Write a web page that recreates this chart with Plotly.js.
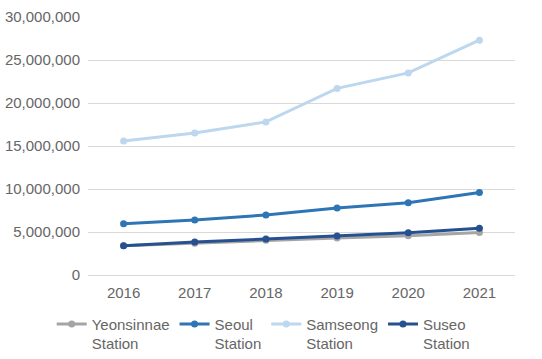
<!DOCTYPE html>
<html><head><meta charset="utf-8">
<script src="https://cdn.plot.ly/plotly-3.0.1.min.js"></script>
<style>html,body{margin:0;padding:0;background:#fff}#c{width:542px;height:359px}</style>
</head><body><div id="c"></div>
<script>
const years = ["2016","2017","2018","2019","2020","2021"];
const seriesNames = ["Yeonsinnae<br>Station","Seoul<br>Station","Samseong<br>Station","Suseo<br>Station"];
const yeonsinnae = [3400000,3700000,4050000,4300000,4550000,4950000];
const seoul = [5970000,6400000,6980000,7800000,8400000,9600000];
const samseong = [15580000,16500000,17800000,21700000,23500000,27300000];
const suseo = [3400000,3840000,4190000,4530000,4920000,5430000];
const yTicks = [0,5000000,10000000,15000000,20000000,25000000,30000000];
const yTickText = ["0","5,000,000","10,000,000","15,000,000","20,000,000","25,000,000","30,000,000"];

const colors = ["#A5A5A5","#2E75B6","#BDD7EE","#26508F"];
const data = [yeonsinnae, seoul, samseong, suseo].map((v,i)=>({
  type:"scatter", mode:"lines+markers", x:years, y:v, name:seriesNames[i],
  line:{color:colors[i], width:3}, marker:{color:colors[i], size:7}
}));
const layout = {
  width:542, height:359,
  margin:{l:88, r:27, t:17, b:84, autoexpand:false},
  paper_bgcolor:"#fff", plot_bgcolor:"#fff",
  font:{family:"Liberation Sans, Arial, sans-serif", size:15, color:"#666"},
  showlegend:true,
  legend:{orientation:"h", x:-0.085, xanchor:"left", y:-0.127, yanchor:"top", valign:"top",
    font:{size:15, color:"#666"}, itemwidth:30, tracegroupgap:0},
  xaxis:{type:"category", range:[-0.5,5.5], showgrid:false, zeroline:false, showline:false, ticks:"",
    ticklabelstandoff:7, tickfont:{size:15, color:"#666"}},
  yaxis:{range:[0,30000000], tickvals:yTicks, ticktext:yTickText, showgrid:true,
    gridcolor:"#D9D9D9", gridwidth:1, zeroline:true, zerolinecolor:"#D9D9D9", showline:false,
    ticks:"", ticklabelstandoff:7, tickfont:{size:15, color:"#666"}}
};
Plotly.newPlot("c", data, layout, {displayModeBar:false, staticPlot:true});
</script></body></html>
